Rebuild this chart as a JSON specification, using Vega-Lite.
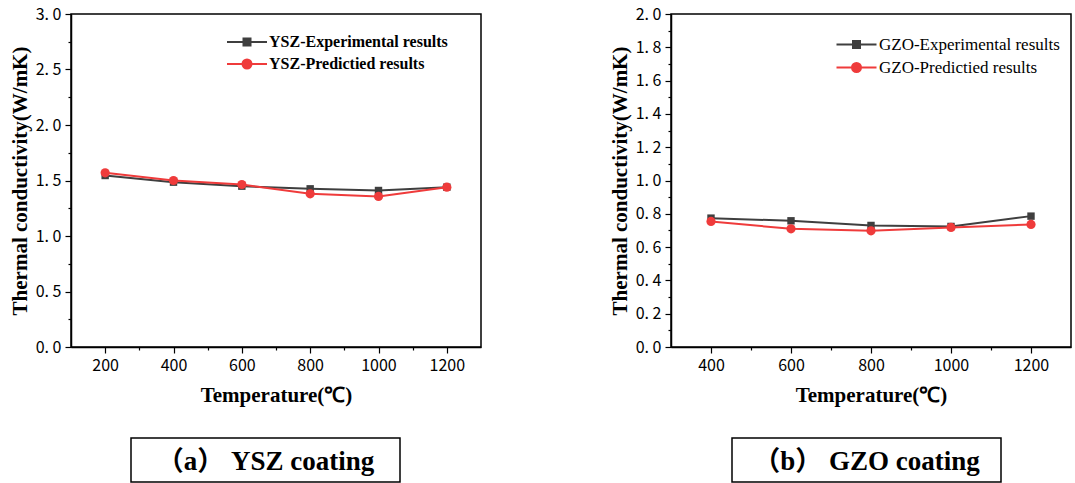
{
  "$schema": "https://vega.github.io/schema/vega-lite/v6.json",
  "padding": {"left": 8, "top": 5, "right": 0, "bottom": 0},
  "background": "white",
  "datasets": {
    "ysz": [
      {"series": "YSZ-Experimental results", "T": 200, "k": 1.545},
      {"series": "YSZ-Experimental results", "T": 400, "k": 1.485},
      {"series": "YSZ-Experimental results", "T": 600, "k": 1.449},
      {"series": "YSZ-Experimental results", "T": 800, "k": 1.425},
      {"series": "YSZ-Experimental results", "T": 1000, "k": 1.41},
      {"series": "YSZ-Experimental results", "T": 1200, "k": 1.44},
      {"series": "YSZ-Predictied results", "T": 200, "k": 1.569},
      {"series": "YSZ-Predictied results", "T": 400, "k": 1.5},
      {"series": "YSZ-Predictied results", "T": 600, "k": 1.464},
      {"series": "YSZ-Predictied results", "T": 800, "k": 1.38},
      {"series": "YSZ-Predictied results", "T": 1000, "k": 1.356},
      {"series": "YSZ-Predictied results", "T": 1200, "k": 1.44}
    ],
    "gzo": [
      {"series": "GZO-Experimental results", "T": 400, "k": 0.774},
      {"series": "GZO-Experimental results", "T": 600, "k": 0.758},
      {"series": "GZO-Experimental results", "T": 800, "k": 0.73},
      {"series": "GZO-Experimental results", "T": 1000, "k": 0.724},
      {"series": "GZO-Experimental results", "T": 1200, "k": 0.786},
      {"series": "GZO-Predictied results", "T": 400, "k": 0.754},
      {"series": "GZO-Predictied results", "T": 600, "k": 0.71},
      {"series": "GZO-Predictied results", "T": 800, "k": 0.698},
      {"series": "GZO-Predictied results", "T": 1000, "k": 0.718},
      {"series": "GZO-Predictied results", "T": 1200, "k": 0.736}
    ]
  },
  "config": {
    "view": {"stroke": "black", "strokeWidth": 1.5},
    "axis": {
      "domainColor": "black", "domainWidth": 1.5,
      "tickColor": "black", "tickWidth": 1.2,
      "labelFont": "Noto Sans CJK SC", "labelFontSize": 16, "labelColor": "black", "labelOverlap": false,
      "titleFont": "Liberation Serif", "titleFontSize": 21, "titleFontWeight": "bold", "titleColor": "black",
      "grid": false
    }
  },
  "resolve": {"scale": {"color": "independent"}, "legend": {"color": "independent"}},
  "spacing": 126,
  "hconcat": [
    {
      "spacing": 31,
      "vconcat": [
        {
          "width": 410, "height": 333,
          "view": {"stroke": "black", "strokeWidth": 1.5},
          "data": {"name": "ysz"},
          "layer": [
            {
              "mark": {"type": "line", "strokeWidth": 2},
              "encoding": {
                "x": {"field": "T", "type": "quantitative",
                  "scale": {"domain": [100, 1300], "nice": false},
                  "axis": {"title": "Temperature(℃)", "values": [200, 300, 400, 500, 600, 700, 800, 900, 1000, 1100, 1200],
                    "tickCount": 30,
                    "labelExpr": "datum.value % 200 === 0 ? format(datum.value, 'd') : ''",
                    "labelOverlap": false,
                    "tickSize": {"condition": {"test": "datum.value % 200 === 0", "value": 6}, "value": 3},
                    "labelPadding": 4, "titlePadding": 11}},
                "y": {"field": "k", "type": "quantitative",
                  "scale": {"domain": [0, 3], "nice": false},
                  "axis": {"title": "Thermal conductivity(W/mK)", "values": [0, 0.25, 0.5, 0.75, 1, 1.25, 1.5, 1.75, 2, 2.25, 2.5, 2.75, 3],
                    "tickCount": 30,
                    "labelExpr": "(datum.value * 4) % 2 === 0 ? replace(format(datum.value, '.1f'), '.', '. ') : ''",
                    "labelOverlap": false,
                    "tickSize": {"condition": {"test": "(datum.value * 4) % 2 === 0", "value": 6}, "value": 3},
                    "labelPadding": 4, "titlePadding": 5}},
                "color": {"field": "series", "type": "nominal",
                  "scale": {"domain": ["YSZ-Experimental results", "YSZ-Predictied results"], "range": ["#3f3f3f", "#ef3b3b"]},
                  "legend": {"orient": "none", "legendX": 155, "legendY": 20, "title": null, "padding": 0, "labelLimit": 0,
                    "labelFont": "Liberation Serif", "labelFontWeight": "bold", "labelFontSize": 16, "labelColor": "black",
                    "symbolSize": 64, "symbolStrokeWidth": 2, "symbolOffset": 13, "labelOffset": 14, "rowPadding": 5,
                    "encode": {"symbols": {"update": {
                      "shape": {"signal": "indexof(datum.value, 'Experimental') >= 0 ? 'M-5,0L5,0M-0.875,-0.875L0.875,-0.875L0.875,0.875L-0.875,0.875Z' : 'M-5,0L5,0M1.125,0A1.125,1.125,0,1,1,-1.125,0A1.125,1.125,0,1,1,1.125,0Z'"},
                      "fill": {"signal": "indexof(datum.value, 'Experimental') >= 0 ? '#3f3f3f' : '#ef3b3b'"},
                      "stroke": {"signal": "indexof(datum.value, 'Experimental') >= 0 ? '#3f3f3f' : '#ef3b3b'"},
                      "strokeWidth": {"value": 2},
                      "opacity": {"value": 1}
                    }}}}}
              }
            },
            {
              "mark": {"type": "point", "filled": true, "opacity": 1, "shape": "square", "size": 55},
              "transform": [{"filter": "indexof(datum.series, 'Experimental') >= 0"}],
              "encoding": {
                "x": {"field": "T", "type": "quantitative"},
                "y": {"field": "k", "type": "quantitative"},
                "color": {"field": "series", "type": "nominal"}
              }
            },
            {
              "mark": {"type": "point", "filled": true, "opacity": 1, "shape": "circle", "size": 85},
              "transform": [{"filter": "indexof(datum.series, 'Predictied') >= 0"}],
              "encoding": {
                "x": {"field": "T", "type": "quantitative"},
                "y": {"field": "k", "type": "quantitative"},
                "color": {"field": "series", "type": "nominal"}
              }
            }
          ]
        },
        {
          "spacing": 0,
          "hconcat": [
            {
              "width": 58, "height": 44, "view": {"stroke": "transparent"},
              "data": {"values": [{"t": ""}]},
              "mark": {"type": "text"},
              "encoding": {"text": {"field": "t"}}
            },
            {
              "width": 269, "height": 44,
              "view": {"stroke": "black", "strokeWidth": 1.5},
              "data": {"values": [{"label": "（a） YSZ coating", "px": 0.5, "py": 0.5}]},
              "mark": {"type": "text", "font": "Liberation Serif, Noto Sans CJK SC", "fontWeight": "bold", "fontSize": 27,
                "baseline": "middle", "align": "center", "color": "black", "dy": 2},
              "encoding": {
                "x": {"field": "px", "type": "quantitative", "scale": {"domain": [0, 1]}, "axis": null},
                "y": {"field": "py", "type": "quantitative", "scale": {"domain": [0, 1]}, "axis": null},
                "text": {"field": "label"}
              }
            }
          ]
        }
      ]
    },
    {
      "spacing": 31,
      "vconcat": [
        {
          "width": 400, "height": 333,
          "view": {"stroke": "black", "strokeWidth": 1.5},
          "data": {"name": "gzo"},
          "layer": [
            {
              "mark": {"type": "line", "strokeWidth": 2},
              "encoding": {
                "x": {"field": "T", "type": "quantitative",
                  "scale": {"domain": [300, 1300], "nice": false},
                  "axis": {"title": "Temperature(℃)", "values": [400, 500, 600, 700, 800, 900, 1000, 1100, 1200],
                    "tickCount": 30,
                    "labelExpr": "datum.value % 200 === 0 ? format(datum.value, 'd') : ''",
                    "labelOverlap": false,
                    "tickSize": {"condition": {"test": "datum.value % 200 === 0", "value": 6}, "value": 3},
                    "labelPadding": 4, "titlePadding": 11}},
                "y": {"field": "k", "type": "quantitative",
                  "scale": {"domain": [0, 2], "nice": false},
                  "axis": {"title": "Thermal conductivity(W/mK)", "values": [0, 0.1, 0.2, 0.3, 0.4, 0.5, 0.6, 0.7, 0.8, 0.9, 1, 1.1, 1.2, 1.3, 1.4, 1.5, 1.6, 1.7, 1.8, 1.9, 2],
                    "tickCount": 30,
                    "labelExpr": "round(datum.value * 10) % 2 === 0 ? replace(format(datum.value, '.1f'), '.', '. ') : ''",
                    "labelOverlap": false,
                    "tickSize": {"condition": {"test": "round(datum.value * 10) % 2 === 0", "value": 6}, "value": 3},
                    "labelPadding": 4, "titlePadding": 5}},
                "color": {"field": "series", "type": "nominal",
                  "scale": {"domain": ["GZO-Experimental results", "GZO-Predictied results"], "range": ["#3f3f3f", "#ef3b3b"]},
                  "legend": {"orient": "none", "legendX": 164, "legendY": 22, "title": null, "padding": 0, "labelLimit": 0,
                    "labelFont": "Liberation Serif", "labelFontWeight": "normal", "labelFontSize": 17, "labelColor": "black",
                    "symbolSize": 64, "symbolStrokeWidth": 2, "symbolOffset": 13, "labelOffset": 14, "rowPadding": 5,
                    "encode": {"symbols": {"update": {
                      "shape": {"signal": "indexof(datum.value, 'Experimental') >= 0 ? 'M-5,0L5,0M-0.875,-0.875L0.875,-0.875L0.875,0.875L-0.875,0.875Z' : 'M-5,0L5,0M1.125,0A1.125,1.125,0,1,1,-1.125,0A1.125,1.125,0,1,1,1.125,0Z'"},
                      "fill": {"signal": "indexof(datum.value, 'Experimental') >= 0 ? '#3f3f3f' : '#ef3b3b'"},
                      "stroke": {"signal": "indexof(datum.value, 'Experimental') >= 0 ? '#3f3f3f' : '#ef3b3b'"},
                      "strokeWidth": {"value": 2},
                      "opacity": {"value": 1}
                    }}}}}
              }
            },
            {
              "mark": {"type": "point", "filled": true, "opacity": 1, "shape": "square", "size": 55},
              "transform": [{"filter": "indexof(datum.series, 'Experimental') >= 0"}],
              "encoding": {
                "x": {"field": "T", "type": "quantitative"},
                "y": {"field": "k", "type": "quantitative"},
                "color": {"field": "series", "type": "nominal"}
              }
            },
            {
              "mark": {"type": "point", "filled": true, "opacity": 1, "shape": "circle", "size": 85},
              "transform": [{"filter": "indexof(datum.series, 'Predictied') >= 0"}],
              "encoding": {
                "x": {"field": "T", "type": "quantitative"},
                "y": {"field": "k", "type": "quantitative"},
                "color": {"field": "series", "type": "nominal"}
              }
            }
          ]
        },
        {
          "spacing": 0,
          "hconcat": [
            {
              "width": 59, "height": 44, "view": {"stroke": "transparent"},
              "data": {"values": [{"t": ""}]},
              "mark": {"type": "text"},
              "encoding": {"text": {"field": "t"}}
            },
            {
              "width": 269, "height": 44,
              "view": {"stroke": "black", "strokeWidth": 1.5},
              "data": {"values": [{"label": "（b） GZO coating", "px": 0.5, "py": 0.5}]},
              "mark": {"type": "text", "font": "Liberation Serif, Noto Sans CJK SC", "fontWeight": "bold", "fontSize": 27,
                "baseline": "middle", "align": "center", "color": "black", "dy": 2},
              "encoding": {
                "x": {"field": "px", "type": "quantitative", "scale": {"domain": [0, 1]}, "axis": null},
                "y": {"field": "py", "type": "quantitative", "scale": {"domain": [0, 1]}, "axis": null},
                "text": {"field": "label"}
              }
            }
          ]
        }
      ]
    }
  ]
}
